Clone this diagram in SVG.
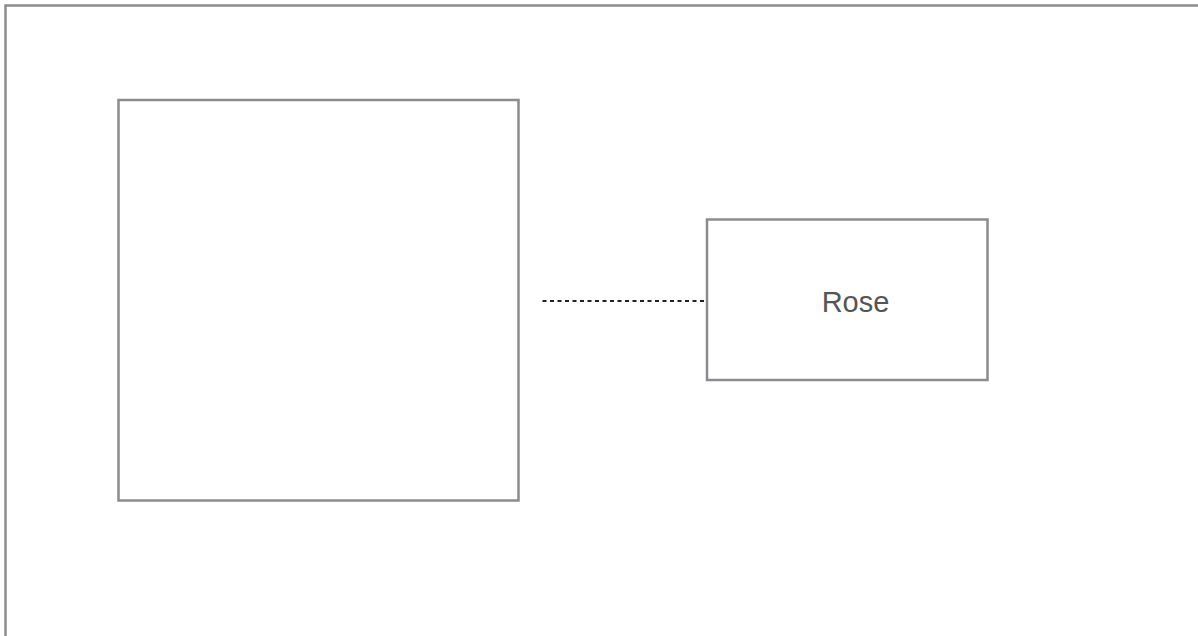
<svg xmlns="http://www.w3.org/2000/svg" width="1198" height="636" viewBox="0 0 1198 636">
<style>
.box{fill:#ffffff;stroke:#8c8c90;stroke-width:2.5}
.lbl{font-family:"Liberation Sans",Arial,sans-serif;font-size:29px;fill:#555555;text-anchor:middle}
.dash{stroke:#222222;stroke-width:2;stroke-dasharray:4 3.5;fill:none}
</style>
<rect width="1198" height="636" fill="#ffffff"/>
<g id="frame"><rect class="box" x="5.5" y="5.5" width="1210" height="650"/></g>
<g id="container"><rect class="box" x="118.5" y="100" width="400" height="400.5"/></g>
<g id="connectors"><line class="dash" x1="542.5" y1="301" x2="706" y2="301"/></g>
<g id="rose"><rect class="box" x="707" y="219.5" width="280.5" height="160.5"/><text class="lbl" x="855.5" y="312">Rose</text></g>
</svg>
